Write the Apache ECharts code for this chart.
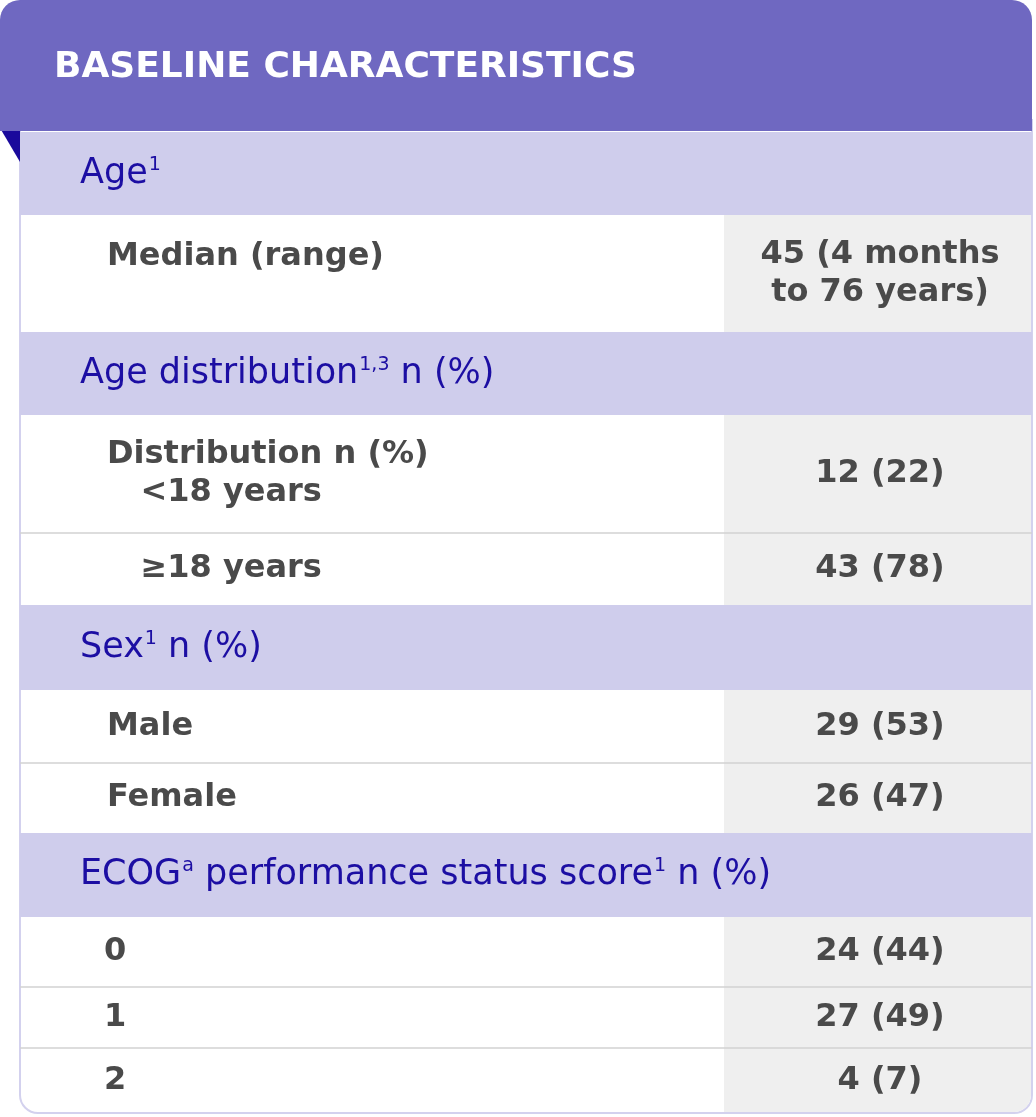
<!DOCTYPE html>
<html>
<head>
<meta charset="utf-8">
<script src="https://cdn.jsdelivr.net/npm/echarts@6/dist/echarts.min.js"></script>
<style>html,body{margin:0;padding:0;background:#fff}#chart{width:1036px;height:1117px}</style>
</head>
<body>
<div id="chart"></div>
<script>
const title = 'BASELINE CHARACTERISTICS'
// row kinds: 's' = section header, 'r' = data row
const rowKinds = ['s', 'r', 's', 'r', 'r', 's', 'r', 'r', 's', 'r', 'r', 'r']
const rowLabels = [
  '{m|Age}{sup|1}',
  'Median (range)',
  '{m|Age distribution}{sup|1,3}{m| n (%)}',
  'Distribution n (%)\n   <18 years',
  '   ≥18 years',
  '{m|Sex}{sup|1}{m| n (%)}',
  'Male',
  'Female',
  '{m|ECOG}{sup|a}{m| performance status score}{sup|1}{m| n (%)}',
  '0',
  '1',
  '2'
]
const rowValues = ['', '45 (4 months\nto 76 years)', '', '12 (22)', '43 (78)', '', '29 (53)', '26 (47)', '', '24 (44)', '27 (49)', '4 (7)']
const rowBounds = [132, 215, 332, 415, 533, 605, 690, 763, 833, 917, 987, 1048, 1113]

let chart = echarts.init(document.getElementById('chart'))

const L = 20, R = 1032, SPLIT = 724
let elements = []

// body frame
elements.push({
  type: 'rect', shape: {x: L, y: 120, width: R - L, height: 993, r: [0, 0, 18, 18]},
  style: {fill: '#fff', stroke: '#D3D1EE', lineWidth: 2}, z: 1
})
// gray value column
elements.push({
  type: 'rect', shape: {x: SPLIT, y: 132, width: R - SPLIT - 1, height: 980, r: [0, 0, 17, 0]},
  style: {fill: '#EFEFEF'}, z: 2
})

rowKinds.forEach((kind, i) => {
  let y0 = rowBounds[i], y1 = rowBounds[i + 1]
  if (kind === 's') {
    elements.push({type: 'rect', shape: {x: L, y: y0, width: R - L, height: y1 - y0}, style: {fill: '#CFCDEC'}, z: 3})
    elements.push({
      type: 'text', x: 80, y: (y0 + y1) / 2, z: 5,
      style: {
        text: rowLabels[i], verticalAlign: 'middle',
        rich: {
          m: {fontFamily: 'DejaVu Sans', fontSize: 35, fill: '#1C0EA3', lineHeight: 44},
          sup: {fontFamily: 'DejaVu Sans', fontSize: 19, fill: '#1C0EA3', lineHeight: 44, verticalAlign: 'top', padding: [4, 0, 0, 1]}
        }
      }
    })
  } else {
    // divider below previous data row
    if (rowKinds[i - 1] === 'r') {
      elements.push({type: 'line', shape: {x1: L, y1: y0, x2: R, y2: y0}, style: {stroke: '#D2D2D2', lineWidth: 1.5}, z: 4})
    }
    let twoLine = rowLabels[i].indexOf('\n') >= 0 || rowValues[i].indexOf('\n') >= 0
    let indent = kind === 'r' && i >= 9 ? 104 : 107
    elements.push({
      type: 'text', x: indent, y: twoLine && i === 1 ? y0 + 42 : (y0 + y1) / 2, z: 5,
      style: {
        text: rowLabels[i], verticalAlign: 'middle', lineHeight: 38,
        font: 'bold 32px "DejaVu Sans"', fill: '#4A4A4A'
      }
    })
    elements.push({
      type: 'text', x: 880, y: (y0 + y1) / 2, z: 5,
      style: {
        text: rowValues[i], align: 'center', verticalAlign: 'middle', lineHeight: 38,
        font: 'bold 32px "DejaVu Sans"', fill: '#4A4A4A'
      }
    })
  }
})

// header band + corner fold
elements.push({
  type: 'polygon', shape: {points: [[0, 128], [20, 128], [20, 162]]},
  style: {fill: '#1A0A9C'}, z: 6
})
elements.push({
  type: 'rect', shape: {x: 0, y: 0, width: R, height: 131, r: [20, 20, 0, 0]},
  style: {fill: '#6F68C1'}, z: 7
})
elements.push({
  type: 'text', x: 54, y: 68, z: 8,
  style: {text: title, font: 'bold 36px "DejaVu Sans"', fill: '#fff', verticalAlign: 'middle'}
})

chart.setOption({
  animation: false,
  graphic: {elements: elements}
})
</script>
</body>
</html>
